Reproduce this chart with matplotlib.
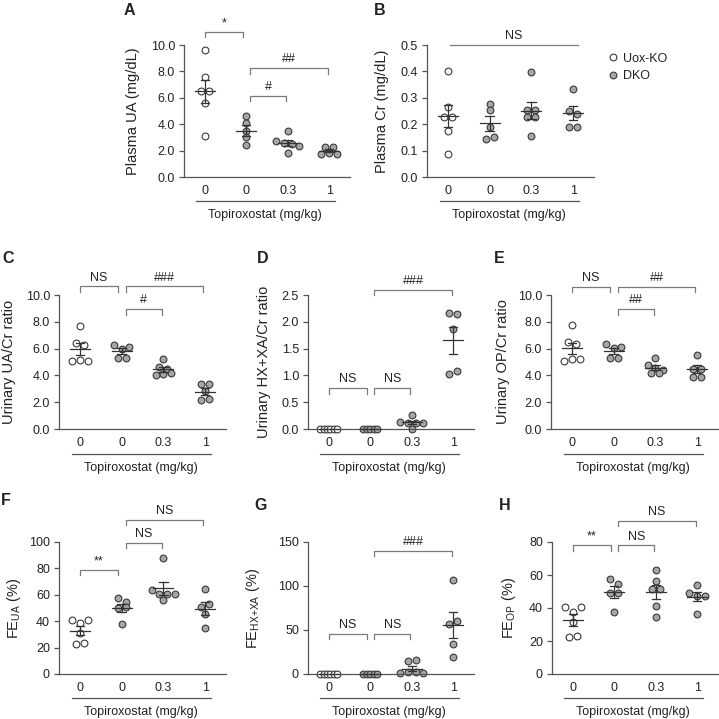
import numpy as np
import matplotlib.pyplot as plt
from matplotlib.lines import Line2D

plt.rcParams['font.family'] = ['Liberation Sans', 'DejaVu Sans']
plt.rcParams['mathtext.fontset'] = 'custom'
plt.rcParams['mathtext.rm'] = 'Liberation Sans'
plt.rcParams['text.color'] = '#222222'
plt.rcParams['axes.labelcolor'] = '#222222'

# ---- data ----
dose_labels = ['0', '0', '0.3', '1']
genotypes = ['Uox-KO', 'DKO', 'DKO', 'DKO']

plasma_ua = [[9.6, 7.6, 6.5, 6.5, 5.6, 3.1],
             [4.6, 4.1, 3.5, 3.0, 2.4],
             [3.5, 2.75, 2.6, 2.5, 2.35, 1.8],
             [2.3, 2.3, 1.75, 1.85, 1.75]]
plasma_cr = [[0.40, 0.265, 0.228, 0.228, 0.173, 0.087],
             [0.278, 0.253, 0.188, 0.143, 0.153],
             [0.397, 0.252, 0.252, 0.227, 0.227, 0.156],
             [0.335, 0.25, 0.24, 0.19, 0.19]]
urinary_ua_cr = [[7.7, 6.45, 6.25, 5.1, 5.15, 5.1],
                 [6.3, 6.0, 6.1, 5.3, 5.3],
                 [5.25, 4.65, 4.45, 4.05, 4.1, 4.15],
                 [3.33, 3.33, 2.83, 2.2, 2.25]]
urinary_hxxa_cr = [[0, 0, 0, 0, 0, 0],
                   [0, 0, 0, 0, 0],
                   [0.26, 0.13, 0.12, 0.12, 0.11, 0.0],
                   [2.17, 2.15, 1.86, 1.02, 1.08]]
urinary_op_cr = [[7.75, 6.5, 6.33, 5.1, 5.2, 5.2],
                 [6.37, 6.08, 6.12, 5.3, 5.3],
                 [5.3, 4.8, 4.55, 4.4, 4.2, 4.2],
                 [5.5, 4.5, 4.5, 3.88, 3.88]]
fe_ua = [[40.8, 38.3, 40.8, 31.2, 22.4, 23.2],
         [57.2, 54.7, 50.0, 50.5, 37.8],
         [88.2, 63.5, 60.5, 60.8, 60.3, 56.0],
         [64.2, 50.4, 52.9, 45.3, 34.8]]
fe_hxxa = [[0, 0, 0, 0, 0, 0],
           [0, 0, 0, 0, 0],
           [15.0, 15.5, 1.0, 2.5, 2.0, 1.0],
           [106.5, 56.7, 60.4, 34.0, 18.9]]
fe_op = [[40.7, 37.7, 40.7, 31.7, 22.6, 23.0],
         [57.5, 54.8, 49.2, 49.2, 37.7],
         [62.9, 56.5, 51.8, 51.8, 41.1, 34.7],
         [54.2, 49.2, 47.5, 47.4, 36.3]]

# significance: (left group, right group, bracket level, text)
sig_a = [(0, 1, 11.0, '*'), (1, 2, 6.15, '#'), (1, 3, 8.25, '##')]
sig_b = [(0, 3, 0.5, 'NS')]
sig_c = [(0, 1, 10.65, 'NS'), (1, 3, 10.65, '###'), (1, 2, 8.95, '#')]
sig_d = [(1, 3, 2.6, '###'), (0, 1, 0.76, 'NS'), (1, 2, 0.76, 'NS')]
sig_e = [(0, 1, 10.6, 'NS'), (1, 3, 10.6, '##'), (1, 2, 8.95, '##')]
sig_f = [(0, 1, 78.8, '**'), (1, 2, 99.5, 'NS'), (1, 3, 116.7, 'NS')]
sig_g = [(1, 3, 140, '###'), (0, 1, 46, 'NS'), (1, 2, 46, 'NS')]
sig_h = [(0, 1, 78, '**'), (1, 2, 78, 'NS'), (1, 3, 93, 'NS')]

EDGE = '#3a3a3a'
FACE = {'Uox-KO': 'white', 'DKO': '#a6a6a6'}
AXC = '#555555'
BRC = '#7a7a7a'
DIAM = 6.8  # marker diameter in px


def swarm(vals, pxy, pxx):
    # prism-like rows: close values share a row, spread symmetrically
    order = sorted(range(len(vals)), key=lambda i: -vals[i])
    rows = []
    for i in order:
        if rows and (vals[rows[-1][0]] - vals[i]) * pxy < 0.85 * DIAM:
            rows[-1].append(i)
        else:
            rows.append([i])
    offs = np.zeros(len(vals))
    for row in rows:
        row = sorted(row)
        step = (0.5 if vals[row[0]] == 0 else 1.15) * DIAM / pxx
        for k, i in enumerate(row):
            offs[i] = (k - (len(row) - 1) / 2) * step
    return offs


def panel(fig, rect, letter, letter_xy, data, ylabel, ymax, ystep, fmt, sigs, label_x):
    ax = fig.add_axes(rect)
    ax.set_xlim(-0.5, 3.5)
    ax.set_ylim(0, ymax)
    for s in ['top', 'right']:
        ax.spines[s].set_visible(False)
    for s in ['left', 'bottom']:
        ax.spines[s].set_color(AXC)
        ax.spines[s].set_linewidth(0.9)
    ax.set_xticks(range(4))
    ax.set_xticklabels(dose_labels)
    yt = np.arange(0, ymax + ystep / 2, ystep)
    ax.set_yticks(yt)
    ax.set_yticklabels([fmt.format(t) for t in yt])
    ax.tick_params(axis='x', length=0, pad=6, labelsize=9, labelcolor='#222222')
    ax.tick_params(axis='y', length=3.5, width=0.9, color=AXC, pad=3, labelsize=9,
                   labelcolor='#222222')
    ax.set_ylabel(ylabel, fontsize=10.5)
    # label anchor is the right edge of the rotated text; shift so its centre sits at label_x
    ax.yaxis.set_label_coords(label_x + 7.5 / ax.bbox.width, 0.5)

    pxx = ax.bbox.width / 4.0
    pxy = ax.bbox.height / ymax
    for g, vals in enumerate(data):
        vals = np.asarray(vals, dtype=float)
        xs = g + swarm(list(vals), pxy, pxx)
        ax.scatter(xs, vals, s=(DIAM / 1.389) ** 2, facecolor=FACE[genotypes[g]],
                   edgecolor=EDGE, linewidth=0.8, zorder=2, clip_on=False)
        m = vals.mean()
        se = vals.std(ddof=1) / np.sqrt(len(vals))
        kw = dict(color='#333333', lw=0.9, zorder=3, clip_on=False)
        ax.plot([g - 0.24, g + 0.24], [m, m], **kw)
        if se > 0:
            ax.plot([g, g], [m - se, m + se], **kw)
            ax.plot([g - 0.1, g + 0.1], [m + se, m + se], **kw)
            ax.plot([g - 0.1, g + 0.1], [m - se, m - se], **kw)

    h = 5.5 / pxy
    for i, j, y, txt in sigs:
        if i == 0 and j == 3:
            xs, ys = [i + 0.05, j + 0.12], [y, y]
        else:
            x1 = i + (0.1 if i > 0 else 0.0)
            x2 = j - (0.08 if i == 0 else 0.04)
            xs, ys = [x1, x1, x2, x2], [y - h, y, y, y - h]
        ax.plot(xs, ys, color=BRC, lw=0.9, clip_on=False)
        ax.annotate(txt, ((xs[0] + xs[-1]) / 2, y), xytext=(0, 2),
                    textcoords='offset points', ha='center', va='bottom', fontsize=9,
                    annotation_clip=False)

    tr = ax.get_xaxis_transform()
    ax.plot([-0.2, 3.15], [-0.185, -0.185], transform=tr, color=AXC, lw=0.9, clip_on=False)
    ax.text(1.45, -0.29, 'Topiroxostat (mg/kg)', transform=tr, ha='center', va='center',
            fontsize=9)
    fig.text(letter_xy[0] / 719, 1 - letter_xy[1] / 719, letter, fontsize=11.5,
             fontweight='bold', ha='left', va='top')
    return ax


fig = plt.figure(figsize=(7.19, 7.19), dpi=100)


def rect(left, top, right, bottom):
    return [left / 719, 1 - bottom / 719, (right - left) / 719, (bottom - top) / 719]


panel(fig, rect(184, 45, 350, 177), 'A', (124, 3), plasma_ua, 'Plasma UA (mg/dL)',
      10, 2, '{:.1f}', sig_a, -0.31)
panel(fig, rect(427, 45, 594, 177), 'B', (374, 3), plasma_cr, 'Plasma Cr (mg/dL)',
      0.5, 0.1, '{:.1f}', sig_b, -0.27)
panel(fig, rect(59, 295, 226, 429), 'C', (2, 251), urinary_ua_cr, 'Urinary UA/Cr ratio',
      10, 2, '{:.1f}', sig_c, -0.305)
panel(fig, rect(308, 295, 474, 429), 'D', (257, 251), urinary_hxxa_cr,
      'Urinary HX+XA/Cr ratio', 2.5, 0.5, '{:.1f}', sig_d, -0.27)
panel(fig, rect(551, 295, 718, 429), 'E', (494, 251), urinary_op_cr, 'Urinary OP/Cr ratio',
      10, 2, '{:.1f}', sig_e, -0.29)
panel(fig, rect(59, 542, 226, 674), 'F', (1, 493), fe_ua, 'FE$_{\\mathregular{UA}}$ (%)',
      100, 20, '{:.0f}', sig_f, -0.26)
panel(fig, rect(308, 542, 474, 674), 'G', (254, 498), fe_hxxa,
      'FE$_{\\mathregular{HX{+}XA}}$ (%)', 150, 50, '{:.0f}', sig_g, -0.32)
panel(fig, rect(552, 542, 718, 674), 'H', (499, 498), fe_op, 'FE$_{\\mathregular{OP}}$ (%)',
      80, 20, '{:.0f}', sig_h, -0.25)

handles = [Line2D([], [], ls='none', marker='o', ms=DIAM / 1.389, mfc=FACE[k], mec=EDGE,
                  mew=0.8) for k in ['Uox-KO', 'DKO']]
fig.legend(handles, ['Uox-KO', 'DKO'], loc='upper left', bbox_to_anchor=(598 / 719, 1 - 44 / 719),
           frameon=False, fontsize=9, handlelength=1.0, handletextpad=0.3, labelspacing=0.45,
           borderpad=0.2)

fig.savefig('out.png', dpi=100)
